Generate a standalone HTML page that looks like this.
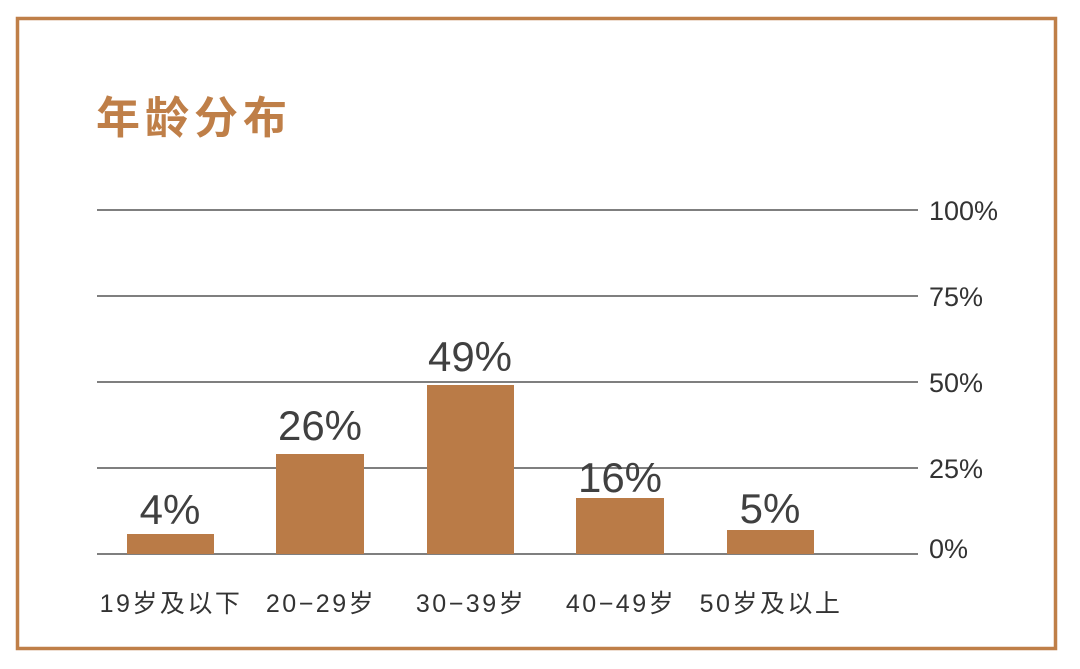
<!DOCTYPE html>
<html><head><meta charset="utf-8"><style>
html,body{margin:0;padding:0;background:#fff;}
svg{display:block;}
</style></head><body>
<svg width="1080" height="669" xmlns="http://www.w3.org/2000/svg">
<rect x="17.5" y="18.5" width="1038" height="630" fill="none" stroke="#bf7f48" stroke-width="3.5"/>
<text x="96" y="133" font-family="Liberation Sans, Noto Sans CJK SC, sans-serif" font-weight="bold" font-size="44" fill="#bf7f48" letter-spacing="5">年龄分布</text>
<g stroke="#555" stroke-width="1.6">
<line x1="97" y1="210" x2="918" y2="210"/>
<line x1="97" y1="296" x2="918" y2="296"/>
<line x1="97" y1="382" x2="918" y2="382"/>
<line x1="97" y1="468" x2="918" y2="468"/>
<line x1="97" y1="554" x2="918" y2="554"/>
</g>
<g font-family="Liberation Sans, sans-serif" font-size="27" fill="#333">
<text x="929" y="220">100%</text>
<text x="929" y="306">75%</text>
<text x="929" y="392">50%</text>
<text x="929" y="478">25%</text>
<text x="929" y="558">0%</text>
</g>
<g fill="#ba7b47">
<rect x="127" y="534" width="87" height="20"/>
<rect x="276" y="454" width="88" height="100"/>
<rect x="427" y="385" width="87" height="169"/>
<rect x="576" y="498" width="88" height="56"/>
<rect x="727" y="530" width="87" height="24"/>
</g>
<g font-family="Liberation Sans, sans-serif" font-size="42" fill="#404040" text-anchor="middle">
<text x="170" y="524">4%</text>
<text x="320" y="440">26%</text>
<text x="470" y="371">49%</text>
<text x="620" y="492">16%</text>
<text x="770" y="523">5%</text>
</g>
<g font-family="Liberation Sans, Noto Sans CJK SC, sans-serif" font-size="25" fill="#333" text-anchor="middle" letter-spacing="2.5">
<text x="171" y="612">19岁及以下</text>
<text x="321" y="612">20−29岁</text>
<text x="471" y="612">30−39岁</text>
<text x="621" y="612">40−49岁</text>
<text x="771" y="612">50岁及以上</text>
</g>
</svg>
</body></html>
